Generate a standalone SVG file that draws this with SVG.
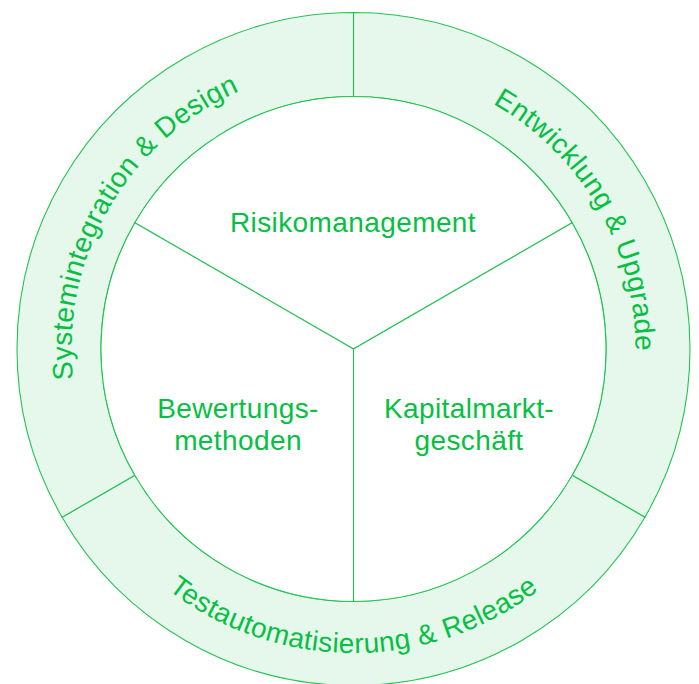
<svg xmlns="http://www.w3.org/2000/svg" xmlns:xlink="http://www.w3.org/1999/xlink" width="699" height="684" viewBox="0 0 699 684">
<style>
.ring{fill:#e6f8eb;stroke:#22c452;stroke-width:1.1}
.sec{fill:#ffffff;stroke:#22c452;stroke-width:1.1}
.lbl{font-family:"Liberation Sans",Arial,sans-serif;font-size:28px;letter-spacing:0.4px;fill:#05c043}
.mid{text-anchor:middle}
</style>
<defs>
<path id="pTL" d="M154.10,548.40 A282,282 0 0 1 426.49,76.61"/>
<path id="pTR" d="M280.51,76.61 A282,282 0 0 1 552.90,548.40"/>
<path id="pB" d="M59.86,427.68 A304,304 0 0 0 647.14,427.68"/>
</defs>
<rect width="699" height="684" fill="#ffffff"/>
<g id="ring-entwicklung">
<path class="ring" d="M353.5,12.5 A336.5,336.5 0 0 1 644.92,517.25 L572.17,475.25 A252.5,252.5 0 0 0 353.5,96.5 Z"/>
<text class="lbl mid"><textPath xlink:href="#pTR" href="#pTR" startOffset="50%">Entwicklung &amp; Upgrade</textPath></text>
</g>
<g id="ring-test">
<path class="ring" d="M644.92,517.25 A336.5,336.5 0 0 1 62.08,517.25 L134.83,475.25 A252.5,252.5 0 0 0 572.17,475.25 Z"/>
<text class="lbl mid"><textPath xlink:href="#pB" href="#pB" startOffset="50%">Testautomatisierung &amp; Release</textPath></text>
</g>
<g id="ring-system">
<path class="ring" d="M62.08,517.25 A336.5,336.5 0 0 1 353.5,12.5 L353.5,96.5 A252.5,252.5 0 0 0 134.83,475.25 Z"/>
<text class="lbl mid"><textPath xlink:href="#pTL" href="#pTL" startOffset="50%">Systemintegration &amp; Design</textPath></text>
</g>
<g id="risikomanagement">
<path class="sec" d="M353.5,349 L134.83,222.75 A252.5,252.5 0 0 1 572.17,222.75 Z"/>
<text class="lbl mid" x="353" y="232">Risikomanagement</text>
</g>
<g id="kapitalmarkt">
<path class="sec" d="M353.5,349 L572.17,222.75 A252.5,252.5 0 0 1 353.5,601.5 Z"/>
<text class="lbl mid" x="469" y="418">Kapitalmarkt-</text>
<text class="lbl mid" x="469" y="450">geschäft</text>
</g>
<g id="bewertung">
<path class="sec" d="M353.5,349 L353.5,601.5 A252.5,252.5 0 0 1 134.83,222.75 Z"/>
<text class="lbl mid" x="238" y="418">Bewertungs-</text>
<text class="lbl mid" x="238" y="450">methoden</text>
</g>
<g id="connectors"></g>
</svg>
